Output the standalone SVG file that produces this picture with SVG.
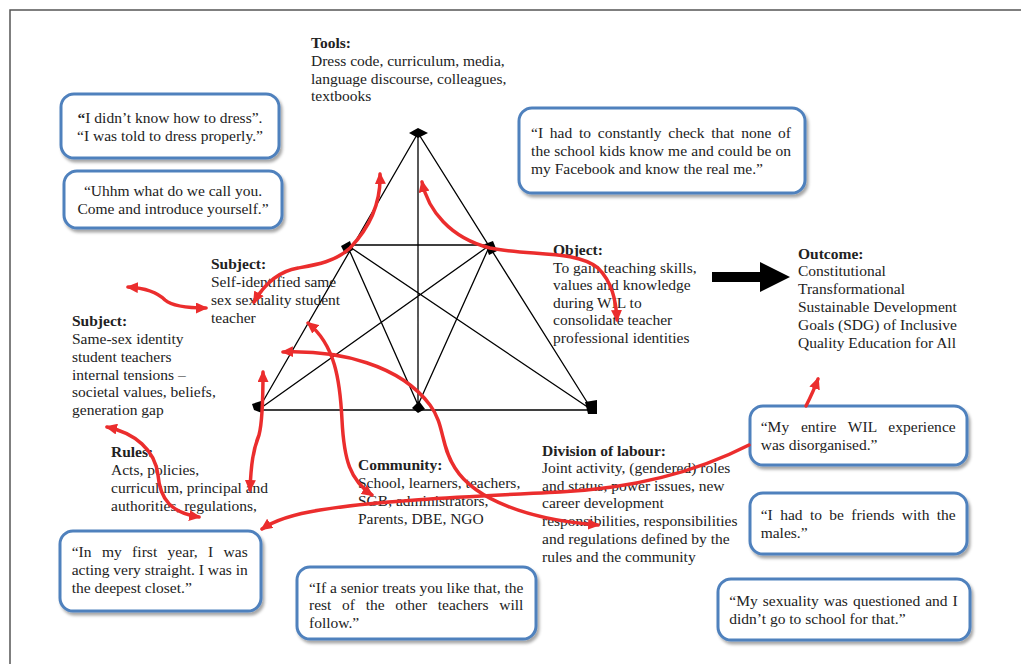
<svg xmlns="http://www.w3.org/2000/svg" width="1021" height="664" viewBox="0 0 1021 664">
<style>
text{font-family:"Liberation Serif","Times New Roman",serif;font-size:15.5px;fill:#222}
.b{font-weight:bold}
.box{fill:#fff;stroke:#4F81BD;stroke-width:3;filter:url(#sh)}
.tri{stroke:#000;stroke-width:1.3;fill:none}
.red{fill:none;stroke:#EB2D2D;stroke-width:3.5;stroke-linecap:round}
.one{marker-end:url(#ah)}
.two{marker-start:url(#ah);marker-end:url(#ah)}
</style>
<defs>
<filter id="sh" x="-10%" y="-10%" width="125%" height="135%">
<feDropShadow dx="2" dy="3" stdDeviation="1.8" flood-color="#000" flood-opacity="0.35"/>
</filter>
<marker id="ah" viewBox="0 0 12 11" markerWidth="12" markerHeight="11" refX="10" refY="5.5" orient="auto-start-reverse" markerUnits="userSpaceOnUse">
<path d="M0,0 L12,5.5 L0,11 z" fill="#EB2D2D"/>
</marker>
</defs>
<rect x="0" y="0" width="1021" height="664" fill="#fff"/>
<rect x="10" y="10" width="1030" height="670" fill="none" stroke="#555" stroke-width="1.5"/>

<g id="triangle">
<path class="tri" d="M418,133 L258,410 L592,410 Z M418,133 L418,405 M347,245 L490,245 M347,245 L418,405 M347,245 L592,410 M490,245 L258,410 M490,245 L418,405"/>
<polygon points="409,133 418,128 428,133 418,138" fill="#000"/>
<polygon points="341,246 350,241 353,250 345,254" fill="#000"/>
<polygon points="485,244 493,241 497,251 489,255" fill="#000"/>
<polygon points="252,404 261,401 262,413 254,410" fill="#000"/>
<polygon points="412,408 419,401 425,409 418,413" fill="#000"/>
<polygon points="585,402 597,400 597,414 588,414" fill="#000"/>
</g>

<g id="tools">
<text x="311" y="48" class="b">Tools:</text>
<text x="311" y="66">Dress code, curriculum, media,</text>
<text x="311" y="83.5">language discourse, colleagues,</text>
<text x="311" y="101">textbooks</text>
</g>

<g id="subject-top">
<text x="211" y="269" class="b">Subject:</text>
<text x="211" y="287">Self-identified same</text>
<text x="211" y="305">sex sexuality student</text>
<text x="211" y="322.5">teacher</text>
</g>

<g id="subject-left">
<text x="72" y="326" class="b">Subject:</text>
<text x="72" y="343.5">Same-sex identity</text>
<text x="72" y="361.5">student teachers</text>
<text x="72" y="379.5">internal tensions –</text>
<text x="72" y="397">societal values, beliefs,</text>
<text x="72" y="415">generation gap</text>
</g>

<g id="rules">
<text x="111" y="457" class="b">Rules:</text>
<text x="111" y="475">Acts, policies,</text>
<text x="111" y="493">curriculum, principal and</text>
<text x="111" y="511">authorities, regulations,</text>
</g>

<g id="community">
<text x="358" y="470" class="b">Community:</text>
<text x="358" y="488">School, learners, teachers,</text>
<text x="358" y="506">SGB, administrators,</text>
<text x="358" y="523.5">Parents, DBE, NGO</text>
</g>

<g id="object">
<text x="553" y="255" class="b">Object:</text>
<text x="553" y="273">To gain teaching skills,</text>
<text x="553" y="290">values and knowledge</text>
<text x="553" y="307.5">during WIL to</text>
<text x="553" y="325">consolidate teacher</text>
<text x="553" y="343">professional identities</text>
</g>

<g id="division">
<text x="542" y="456" class="b">Division of labour:</text>
<text x="542" y="473">Joint activity, (gendered) roles</text>
<text x="542" y="490.5">and status, power issues, new</text>
<text x="542" y="508">career development</text>
<text x="542" y="526">responsibilities, responsibilities</text>
<text x="542" y="543.5">and regulations defined by the</text>
<text x="542" y="561.5">rules and the community</text>
</g>

<g id="outcome">
<text x="798" y="259" class="b">Outcome:</text>
<text x="798" y="276">Constitutional</text>
<text x="798" y="294">Transformational</text>
<text x="798" y="312">Sustainable Development</text>
<text x="798" y="329.5">Goals (SDG) of Inclusive</text>
<text x="798" y="347.5">Quality Education for All</text>
</g>

<g id="outcome-arrow">
<path d="M712,272 L760,272 L760,262 L790,277 L760,292 L760,282 L712,282 Z" fill="#000"/>
</g>

<g id="quote-dress">
<rect class="box" x="61" y="94" width="218" height="64" rx="13"/>
<text x="170" y="122.5" text-anchor="middle"><tspan class="b">“</tspan>I didn’t know how to dress”.</text>
<text x="170" y="140.5" text-anchor="middle">“I was told to dress properly.”</text>
</g>

<g id="quote-call">
<rect class="box" x="64" y="171" width="218" height="57" rx="13"/>
<text x="173" y="195.5" text-anchor="middle">“Uhhm what do we call you.</text>
<text x="173" y="213.5" text-anchor="middle">Come and introduce yourself.”</text>
</g>

<g id="quote-facebook">
<rect class="box" x="519" y="108" width="286" height="85" rx="13"/>
<text x="531" y="138" word-spacing="2.9" textLength="260" lengthAdjust="spacing">“I had to constantly check that none of</text>
<text x="531" y="156" textLength="260" lengthAdjust="spacing">the school kids know me and could be on</text>
<text x="531" y="173.5">my Facebook and know the real me.”</text>
</g>

<g id="quote-wil">
<rect class="box" x="750" y="406" width="217" height="59" rx="13"/>
<text x="760.7" y="432" word-spacing="7.8" textLength="195" lengthAdjust="spacing">“My entire WIL experience</text>
<text x="760.7" y="450">was disorganised.”</text>
</g>

<g id="quote-friends">
<rect class="box" x="750" y="493" width="217" height="61" rx="13"/>
<text x="760.7" y="520" word-spacing="3.5" textLength="195" lengthAdjust="spacing">“I had to be friends with the</text>
<text x="760.7" y="538">males.”</text>
</g>

<g id="quote-sexuality">
<rect class="box" x="718" y="579" width="252" height="61" rx="13"/>
<text x="729.3" y="606" word-spacing="1.1" textLength="228.4" lengthAdjust="spacing">“My sexuality was questioned and I</text>
<text x="729.3" y="624">didn’t go to school for that.”</text>
</g>

<g id="quote-closet">
<rect class="box" x="60" y="531" width="201" height="80" rx="13"/>
<text x="71.7" y="557" word-spacing="6.4" textLength="176" lengthAdjust="spacing">“In my first year, I was</text>
<text x="71.7" y="575" textLength="176" lengthAdjust="spacing">acting very straight. I was in</text>
<text x="71.7" y="592.5">the deepest closet.”</text>
</g>

<g id="quote-senior">
<rect class="box" x="297" y="567" width="239" height="72" rx="13"/>
<text x="309" y="592.5" textLength="214.3" lengthAdjust="spacing">“If a senior treats you like that, the</text>
<text x="309" y="610" word-spacing="6.8" textLength="214.3" lengthAdjust="spacing">rest of the other teachers will</text>
<text x="309" y="627.5">follow.”</text>
</g>

<g id="connectors">
<path class="red two" d="M380,174 C381,200 372,225 350,248 C335,262 315,265 298,268 C280,271 265,283 254,302"/>
<path class="red two" d="M422,182 C428,210 450,238 490,248 C530,256 575,250 598,268 C612,282 616,300 617,320"/>
<path class="red two" d="M128,287 C145,288 158,293 165,300 C172,306 185,308 206,308"/>
<path class="red two" d="M107,427 C135,433 155,450 158,475 C160,500 172,513 199,517"/>
<path class="red two" d="M263,372 C263,395 263,420 259,435 C253,450 251,465 250,490"/>
<path class="red two" d="M308,323 C335,345 340,380 342,420 C344,460 350,480 372,495"/>
<path class="red two" d="M283,352 C340,350 400,365 430,405 C445,425 440,445 455,468 C475,500 530,520 598,525"/>
<path class="red one" d="M749,445 C700,470 640,488 560,492 C480,496 380,500 320,510 C295,514 275,520 262,529"/>
<path class="red one" d="M806,406 C810,398 814,390 818,379"/>
</g>
</svg>
